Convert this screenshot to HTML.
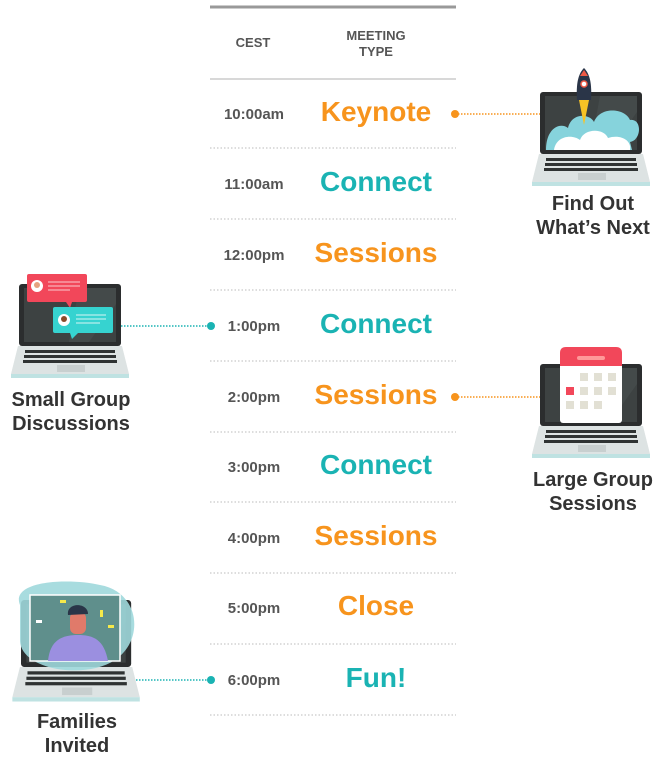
<!DOCTYPE html>
<html><head><meta charset="utf-8"><style>
body{margin:0;width:663px;height:764px;background:#fff;position:relative;overflow:hidden;font-family:"Liberation Sans",sans-serif}
.t{position:absolute;text-align:center}
.time{left:210px;width:88px;font-size:15px;font-weight:bold;color:#555}
.type{left:300px;width:152px;font-size:28px;font-weight:bold}
.o{color:#f7941d}.c{color:#1ab3b3}
.lab{font-size:20px;font-weight:bold;color:#333;line-height:24px}
</style></head><body>
<svg width="663" height="764" style="position:absolute;left:0;top:0">
<defs>
<g id="lap">
<rect x="0" y="0" width="102" height="62" rx="3" fill="#2b2d2e"/>
<rect x="5" y="4" width="92" height="54" fill="#3d4242"/>
<polygon points="60,4 97,4 97,20 70,58 50,58" fill="#4a5050" opacity=".6"/>
<polygon points="-1,62 103,62 110,90 -8,90" fill="#dde3e3"/>
<rect x="-8" y="90" width="118" height="4" fill="#bfe2e2"/>
<g fill="#2f3333">
<rect x="6" y="66" width="90" height="3"/><rect x="5" y="71" width="92" height="3"/><rect x="4" y="76" width="94" height="3"/>
</g>
<rect x="38" y="81" width="28" height="7" fill="#c8cfcf"/>
</g>
</defs>
<line x1="210" y1="7" x2="456" y2="7" stroke="#999" stroke-width="3"/>
<line x1="210" y1="79" x2="456" y2="79" stroke="#ccc" stroke-width="1.5"/>
<g stroke="#bbb" stroke-dasharray="1.5,2" stroke-width="1">
<line x1="210" y1="148" x2="456" y2="148"/><line x1="210" y1="219" x2="456" y2="219"/><line x1="210" y1="290" x2="456" y2="290"/><line x1="210" y1="361" x2="456" y2="361"/><line x1="210" y1="432" x2="456" y2="432"/><line x1="210" y1="502" x2="456" y2="502"/><line x1="210" y1="573" x2="456" y2="573"/><line x1="210" y1="644" x2="456" y2="644"/><line x1="210" y1="715" x2="456" y2="715"/>
</g>
<!-- connectors -->
<g stroke-dasharray="1.5,1.5" stroke-width="1.5">
<line x1="455" y1="114" x2="541" y2="114" stroke="#f7941d"/>
<line x1="455" y1="397" x2="541" y2="397" stroke="#f7941d"/>
<line x1="121" y1="326" x2="211" y2="326" stroke="#1ab3b3"/>
<line x1="133" y1="680" x2="211" y2="680" stroke="#1ab3b3"/>
</g>
<circle cx="455" cy="114" r="4" fill="#f7941d"/><circle cx="455" cy="397" r="4" fill="#f7941d"/>
<circle cx="211" cy="326" r="4" fill="#1ab3b3"/><circle cx="211" cy="680" r="4" fill="#1ab3b3"/>
<!-- rocket laptop -->
<use href="#lap" transform="translate(540,92)"/>
<path d="M546,150 C546,128 560,122 568,128 C572,112 590,114 594,122 C600,106 625,108 630,120 C642,118 642,140 630,142 L632,150 Z" fill="#86d3dc"/>
<path d="M554,150 C556,136 572,134 580,140 C584,128 604,128 608,138 C620,134 632,140 630,150 Z" fill="#fff"/>
<path d="M584,68 C590,74 592,84 591,100 L577,100 C576,84 578,74 584,68Z" fill="#2a3548"/>
<circle cx="584" cy="84" r="3" fill="#fff" stroke="#ef5a45" stroke-width="1.5"/>
<path d="M584,70 L588,76 L580,76Z" fill="#ef5a45"/>
<path d="M579,100 L589,100 L584,125Z" fill="#f7c325"/>
<!-- chat laptop -->
<use href="#lap" transform="translate(19,284)"/>
<rect x="27" y="274" width="60" height="28" rx="2" fill="#f2475a"/><polygon points="66,302 72,302 70,308" fill="#f2475a"/>
<circle cx="37" cy="286" r="6" fill="#fff"/><circle cx="37" cy="285" r="3" fill="#e5a27f"/>
<g stroke="#fff" stroke-width="1" opacity=".7"><line x1="48" y1="282" x2="80" y2="282"/><line x1="48" y1="286" x2="80" y2="286"/><line x1="48" y1="290" x2="70" y2="290"/></g>
<rect x="53" y="307" width="60" height="26" rx="2" fill="#36d3d0"/><polygon points="70,333 78,333 72,339" fill="#36d3d0"/>
<circle cx="64" cy="320" r="6" fill="#fff"/><circle cx="64" cy="319" r="3" fill="#8a4b2a"/>
<g stroke="#fff" stroke-width="1" opacity=".8"><line x1="76" y1="315" x2="106" y2="315"/><line x1="76" y1="319" x2="106" y2="319"/><line x1="76" y1="323" x2="100" y2="323"/></g>
<!-- calendar laptop -->
<use href="#lap" transform="translate(540,364)"/>
<rect x="560" y="350" width="62" height="73" rx="3" fill="#fff"/>
<path d="M560,366 L560,353 Q560,347 566,347 L616,347 Q622,347 622,353 L622,366Z" fill="#f2475a"/>
<rect x="577" y="356" width="28" height="4" rx="2" fill="#f99"/>
<g fill="#e2e0d4"><rect x="580" y="373" width="8" height="8"/><rect x="594" y="373" width="8" height="8"/><rect x="608" y="373" width="8" height="8"/><rect x="580" y="387" width="8" height="8"/><rect x="594" y="387" width="8" height="8"/><rect x="608" y="387" width="8" height="8"/><rect x="566" y="401" width="8" height="8"/><rect x="580" y="401" width="8" height="8"/><rect x="594" y="401" width="8" height="8"/></g>
<rect x="566" y="387" width="8" height="8" fill="#f2475a"/>
<!-- families laptop -->
<g transform="translate(21,600) scale(1.08,1.08)"><use href="#lap"/></g>
<path d="M20,605 C10,580 70,578 100,585 C140,592 145,640 115,660 C85,680 20,670 20,640Z" fill="#9fd8dc" opacity=".9"/>
<rect x="30" y="595" width="90" height="66" fill="#5f8f8c" stroke="#fff" stroke-width="1.5"/>
<path d="M48,661 C50,640 62,635 78,635 C94,635 104,640 108,661Z" fill="#9b8fe0"/>
<rect x="70" y="612" width="16" height="22" rx="6" fill="#e07a6a"/>
<path d="M68,615 C66,602 88,602 88,614Z" fill="#2a3548"/>
<rect x="60" y="600" width="6" height="3" fill="#f6e94a"/><rect x="100" y="610" width="3" height="7" fill="#f6e94a"/><rect x="36" y="620" width="6" height="3" fill="#fff"/><rect x="108" y="625" width="6" height="3" fill="#f6e94a"/>
</svg>
<div class="t" style="left:222px;top:35px;font-size:13px;font-weight:bold;color:#555;width:62px">CEST</div>
<div class="t" style="left:326px;top:28px;font-size:13px;font-weight:bold;color:#555;width:100px;line-height:16px">MEETING<br>TYPE</div>
<div class="t time" style="top:106px">10:00am</div><div class="t type o" style="top:96px">Keynote</div>
<div class="t time" style="top:176px">11:00am</div><div class="t type c" style="top:166px">Connect</div>
<div class="t time" style="top:247px">12:00pm</div><div class="t type o" style="top:237px">Sessions</div>
<div class="t time" style="top:318px">1:00pm</div><div class="t type c" style="top:308px">Connect</div>
<div class="t time" style="top:389px">2:00pm</div><div class="t type o" style="top:379px">Sessions</div>
<div class="t time" style="top:459px">3:00pm</div><div class="t type c" style="top:449px">Connect</div>
<div class="t time" style="top:530px">4:00pm</div><div class="t type o" style="top:520px">Sessions</div>
<div class="t time" style="top:600px">5:00pm</div><div class="t type o" style="top:590px">Close</div>
<div class="t time" style="top:672px">6:00pm</div><div class="t type c" style="top:662px">Fun!</div>
<div class="t lab" style="left:523px;width:140px;top:192px">Find Out<br>What’s Next</div>
<div class="t lab" style="left:0;width:142px;top:388px">Small Group<br>Discussions</div>
<div class="t lab" style="left:523px;width:140px;top:468px">Large Group<br>Sessions</div>
<div class="t lab" style="left:7px;width:140px;top:710px">Families<br>Invited</div>
</body></html>
